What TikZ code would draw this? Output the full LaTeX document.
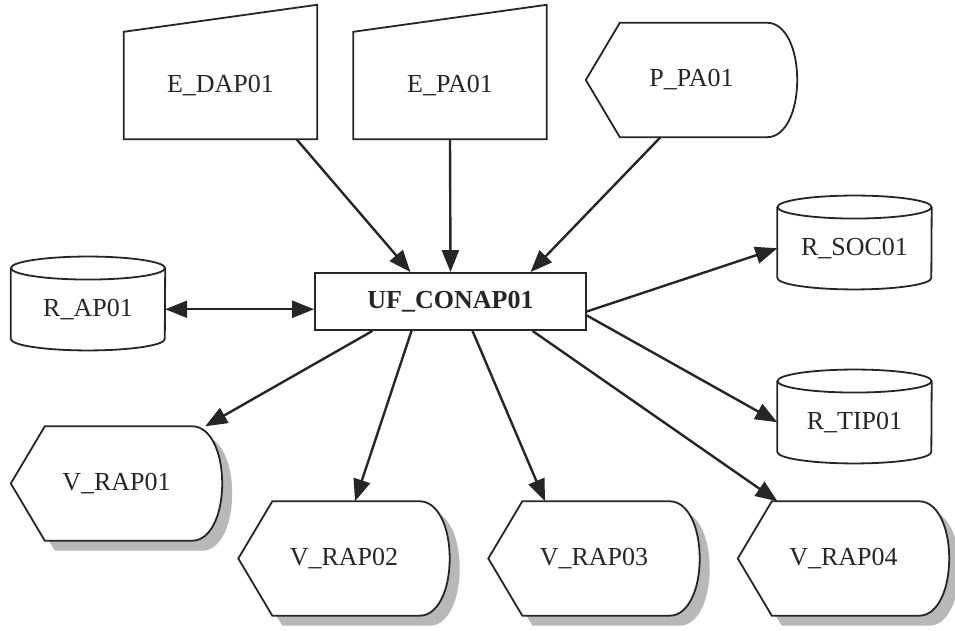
\documentclass[tikz,border=0pt]{standalone}
\usepackage{fontspec}
\setmainfont{Liberation Serif}
\usetikzlibrary{arrows.meta, backgrounds}

\begin{document}
\begin{tikzpicture}[
            x = 1pt, y = 1pt, % work in points
            > = {Triangle[length=22pt, width=17pt]}, % arrow head style
            font = \fontsize{26}{30}\selectfont
        ]

        \tikzstyle{box}=[inner sep = 0pt, text = black!85]
        \tikzstyle{einput}=[box, minimum width = 193pt, minimum height = 107pt]
        \tikzstyle{vdisp}=[box, minimum width = 211pt, minimum height = 114pt]
        \tikzstyle{store}=[box, minimum width = 154pt, minimum height = 82pt]
        \tikzstyle{ufbox}=[box, draw = black!85, fill = white, line width = 1.8pt,
            minimum width = 271pt, minimum height = 57pt,
            font = \fontsize{26}{30}\selectfont\bfseries]
        \tikzstyle{outline}=[draw = black!85, fill = white, line width = 1.8pt]
        \tikzstyle{vshadow}=[fill = black!28, transform canvas = {shift = {(10pt,-10pt)}}]
        \tikzstyle{flow}=[draw = black!85, line width = 2.4pt]

        \useasboundingbox (0,0) rectangle (955,631);

        \node[einput] (edap) at (220.5, 545.5) {E\_DAP01};
        \node[einput] (epa) at (450, 545.5) {E\_PA01};
        \node[vdisp] (ppa) at (691.5, 551) {P\_PA01};
        \node[ufbox] (uf) at (450.5, 329.5) {UF\_CONAP01};
        \node[store] (rap) at (88, 321.75) {R\_AP01};
        \node[store] (rsoc) at (854.5, 382.75) {R\_SOC01};
        \node[store] (rtip) at (854.5, 208.75) {R\_TIP01};
        \node[vdisp] (v1) at (116.5, 147.5) {V\_RAP01};
        \node[vdisp] (v2) at (344, 72.5) {V\_RAP02};
        \node[vdisp] (v3) at (594, 72.5) {V\_RAP03};
        \node[vdisp] (v4) at (843.5, 72.5) {V\_RAP04};

        \begin{pgfonlayer}{background}
            % shadows of the displays
            \foreach \n in {v1, v2, v3, v4}
                \fill[vshadow] (\n.west) -- ([xshift=34pt]\n.north west)
                    -- ([xshift=-30pt]\n.north east)
                    .. controls +(18pt,0pt) and +(0pt,32pt) .. (\n.east)
                    .. controls +(0pt,-32pt) and +(18pt,0pt) .. ([xshift=-30pt]\n.south east)
                    -- ([xshift=34pt]\n.south west) -- cycle;
            % displays
            \foreach \n in {ppa, v1, v2, v3, v4}
                \draw[outline] (\n.west) -- ([xshift=34pt]\n.north west)
                    -- ([xshift=-30pt]\n.north east)
                    .. controls +(18pt,0pt) and +(0pt,32pt) .. (\n.east)
                    .. controls +(0pt,-32pt) and +(18pt,0pt) .. ([xshift=-30pt]\n.south east)
                    -- ([xshift=34pt]\n.south west) -- cycle;
            % manual inputs
            \foreach \n in {edap, epa}
                \draw[outline] (\n.south west) -- (\n.north west)
                    -- ([yshift=27pt]\n.north east) -- (\n.south east) -- cycle;
            % stores
            \foreach \n in {rap, rsoc, rtip} {
                \draw[outline] (\n.north west) -- ([yshift=11.5pt]\n.south west)
                    arc[start angle=180, end angle=360, x radius=77pt, y radius=11.5pt]
                    -- (\n.north east);
                \draw[outline] (\n.north) ellipse[x radius=77pt, y radius=11.5pt];
            }
        \end{pgfonlayer}

        \draw[flow, ->] ([xshift=76pt]edap.south) -- ([xshift=-40pt]uf.north);
        \draw[flow, ->] (epa.south) -- (uf.north);
        \draw[flow, ->] ([xshift=-31pt]ppa.south) -- ([xshift=80pt]uf.north);
        \draw[flow, <->] (rap.east) -- (rap.east -| uf.west);
        \draw[flow, ->] ([yshift=-10pt]uf.east) -- (rsoc.west);
        \draw[flow, ->] ([yshift=-14pt]uf.east) -- (rtip.west);
        \draw[flow, ->] ([xshift=-78pt]uf.south) -- ([xshift=-17pt]v1.north east);
        \draw[flow, ->] ([xshift=-39pt]uf.south) -- ([xshift=11pt]v2.north);
        \draw[flow, ->] ([xshift=22pt]uf.south) -- ([xshift=-49pt]v3.north);
        \draw[flow, ->] ([xshift=82pt]uf.south) -- ([xshift=-66pt]v4.north);

\end{tikzpicture}
\end{document}
